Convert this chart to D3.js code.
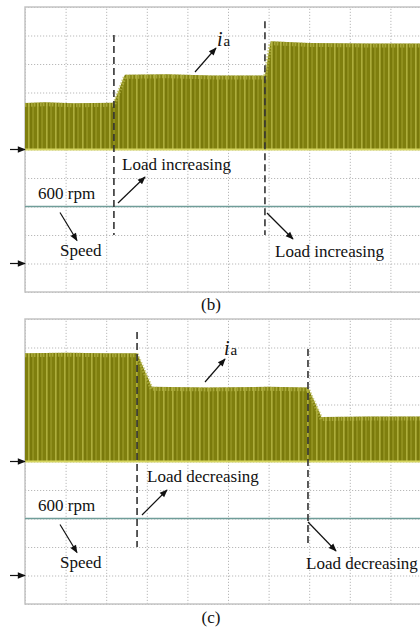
<!DOCTYPE html>
<html>
<head>
<meta charset="utf-8">
<script src="https://cdn.jsdelivr.net/npm/d3@7"></script>
<style>
  body { margin: 0; background: #fff; }
  text { font-family: "Liberation Serif", "DejaVu Serif", serif; fill: #111; }
</style>
</head>
<body>
<svg></svg>
<script>
const WIDTH = 420;
const HEIGHT = 628;

// time axis in divisions (0..10), amplitude in divisions (baseline = 0)
const envB_t = [0, 0.5, 1.2, 2.19, 2.46, 3.5, 4.6, 5.91, 6.05, 7.0, 8.5, 10];
const envB_a = [1.63, 1.66, 1.62, 1.64, 2.62, 2.64, 2.6, 2.6, 3.8, 3.74, 3.72, 3.72];
const envC_t = [0, 1.0, 2.0, 2.76, 3.12, 4.5, 6.0, 6.97, 7.3, 8.5, 10];
const envC_a = [3.8, 3.82, 3.8, 3.8, 2.62, 2.6, 2.62, 2.6, 1.56, 1.58, 1.58];

const loadB = [2.19, 5.91];
const loadB_top = [4.02, 4.5];
const loadC = [2.76, 6.97];
const loadC_top = [4.54, 3.95];
const DASH_BOTTOM = -3.0;

const SPEED_LEVEL = -2;          // 600 rpm trace
const MARKERS = [0, -4];         // channel ground markers on the left

var svg = d3.select("svg")
    .attr("width", WIDTH)
    .attr("height", HEIGHT);

var defs = svg.append("defs");

// striped fill for the current trace
var pat = defs.append("pattern")
    .attr("id", "stripes")
    .attr("patternUnits", "userSpaceOnUse")
    .attr("width", 9)
    .attr("height", 20);
pat.append("rect").attr("width", 9).attr("height", 20).attr("fill", "#7f7f0e");
pat.append("rect").attr("x", 1).attr("width", 1.6).attr("height", 20).attr("fill", "#adad3c");
pat.append("rect").attr("x", 5.5).attr("width", 1.1).attr("height", 20).attr("fill", "#9c9c2a");
pat.append("rect").attr("x", 3.6).attr("width", 0.8).attr("height", 20).attr("fill", "#6f6f06");

defs.append("marker")
    .attr("id", "head")
    .attr("markerUnits", "userSpaceOnUse")
    .attr("viewBox", "0 -5 10 10")
    .attr("refX", 9)
    .attr("refY", 0)
    .attr("markerWidth", 9)
    .attr("markerHeight", 8)
    .attr("orient", "auto")
  .append("path")
    .attr("d", "M0,-4L10,0L0,4Z")
    .attr("fill", "#111");

const x = d3.scaleLinear().domain([0, 10]).range([25, 431]);

function arrow(g, x1, y1, x2, y2) {
    g.append("line")
        .attr("x1", x1).attr("y1", y1)
        .attr("x2", x2).attr("y2", y2)
        .attr("stroke", "#111")
        .attr("stroke-width", 1.2)
        .attr("marker-end", "url(#head)");
}

function label(g, px, py, str) {
    g.append("text")
        .attr("x", px).attr("y", py)
        .style("font-size", "17px")
        .text(str);
}

function drawPanel(top, env_t, env_a, loads, loadTops, notes) {
    const y = d3.scaleLinear().domain([-5, 5]).range([top + 285, top]);
    const g = svg.append("g");

    // grid
    g.append("g")
        .attr("transform", `translate(0,${y(-5)})`)
        .call(d3.axisBottom(x).ticks(10).tickSize(-285).tickFormat(""))
        .call(a => a.select(".domain").remove())
        .call(a => a.selectAll("line")
            .attr("stroke", "#b9b9b9")
            .attr("stroke-dasharray", "1.2,1.8"));
    g.append("g")
        .attr("transform", `translate(${x(0)},0)`)
        .call(d3.axisLeft(y).ticks(10).tickSize(-406).tickFormat(""))
        .call(a => a.select(".domain").remove())
        .call(a => a.selectAll("line")
            .attr("stroke", "#b9b9b9")
            .attr("stroke-dasharray", "1.2,1.8"));

    // frame
    g.append("rect")
        .attr("x", x(0)).attr("y", y(5))
        .attr("width", x(10) - x(0)).attr("height", y(-5) - y(5))
        .attr("fill", "none")
        .attr("stroke", "#c4c4c4")
        .attr("stroke-width", 1.5);

    // current trace
    const pts = env_t.map((t, i) => [t, env_a[i]]);
    g.append("path")
        .attr("d", d3.area()
            .x(d => x(d[0]))
            .y0(y(0))
            .y1(d => y(d[1]))(pts))
        .attr("fill", "url(#stripes)");
    g.append("path")
        .attr("d", d3.line()
            .x(d => x(d[0]))
            .y(d => y(d[1]) + 2)(pts))
        .attr("fill", "none")
        .attr("stroke", "#b8b84a")
        .attr("stroke-width", 4)
        .attr("stroke-dasharray", "1.5,1.5")
        .attr("opacity", 0.7);
    g.append("line")
        .attr("x1", x(0)).attr("x2", x(10))
        .attr("y1", y(0)).attr("y2", y(0))
        .attr("stroke", "#d6d660")
        .attr("stroke-width", 2);

    // speed trace
    g.append("line")
        .attr("x1", x(0)).attr("x2", x(10))
        .attr("y1", y(SPEED_LEVEL)).attr("y2", y(SPEED_LEVEL))
        .attr("stroke", "#6f9d99")
        .attr("stroke-width", 1.6);

    // load step markers
    g.selectAll(".load")
        .data(loads)
        .join("line")
        .attr("x1", d => x(d)).attr("x2", d => x(d))
        .attr("y1", (d, i) => y(loadTops[i]))
        .attr("y2", y(DASH_BOTTOM))
        .attr("stroke", "#333")
        .attr("stroke-width", 1.6)
        .attr("stroke-dasharray", "7,4");

    // channel markers
    MARKERS.forEach(m => arrow(g, 10, y(m), 25, y(m)));

    // annotations
    const ia = g.append("text")
        .attr("x", notes.ia[0]).attr("y", notes.ia[1]);
    ia.append("tspan")
        .style("font-size", "20px")
        .style("font-style", "italic")
        .text("i");
    ia.append("tspan")
        .style("font-size", "15px")
        .attr("dx", 1)
        .text("a");
    arrow(g, ...notes.iaArrow);

    label(g, notes.load1[0], notes.load1[1], notes.text);
    arrow(g, ...notes.load1Arrow);
    label(g, 38, y(SPEED_LEVEL) - 8, "600 rpm");
    arrow(g, 60, y(SPEED_LEVEL) + 6, 77, y(SPEED_LEVEL) + 34);
    label(g, 60, y(SPEED_LEVEL) + 49, "Speed");
    arrow(g, ...notes.load2Arrow);
    label(g, notes.load2[0], notes.load2[1], notes.text);

    g.append("text")
        .attr("x", 211)
        .attr("y", y(-5) + notes.capDy)
        .attr("text-anchor", "middle")
        .style("font-size", "17px")
        .text(notes.caption);
}

drawPanel(7, envB_t, envB_a, loadB, loadB_top, {
    ia: [217, 46],
    iaArrow: [195, 72, 216, 48],
    text: "Load increasing",
    load1: [122, 170],
    load1Arrow: [118, 203, 145, 177],
    load2: [275, 257],
    load2Arrow: [267, 213, 293, 239],
    caption: "(b)",
    capDy: 18
});

drawPanel(319, envC_t, envC_a, loadC, loadC_top, {
    ia: [224, 355],
    iaArrow: [205, 382, 225, 359],
    text: "Load decreasing",
    load1: [147, 482],
    load1Arrow: [142, 515, 167, 490],
    load2: [306, 569],
    load2Arrow: [308, 522, 336, 551],
    caption: "(c)",
    capDy: 19
});
</script>
</body>
</html>
